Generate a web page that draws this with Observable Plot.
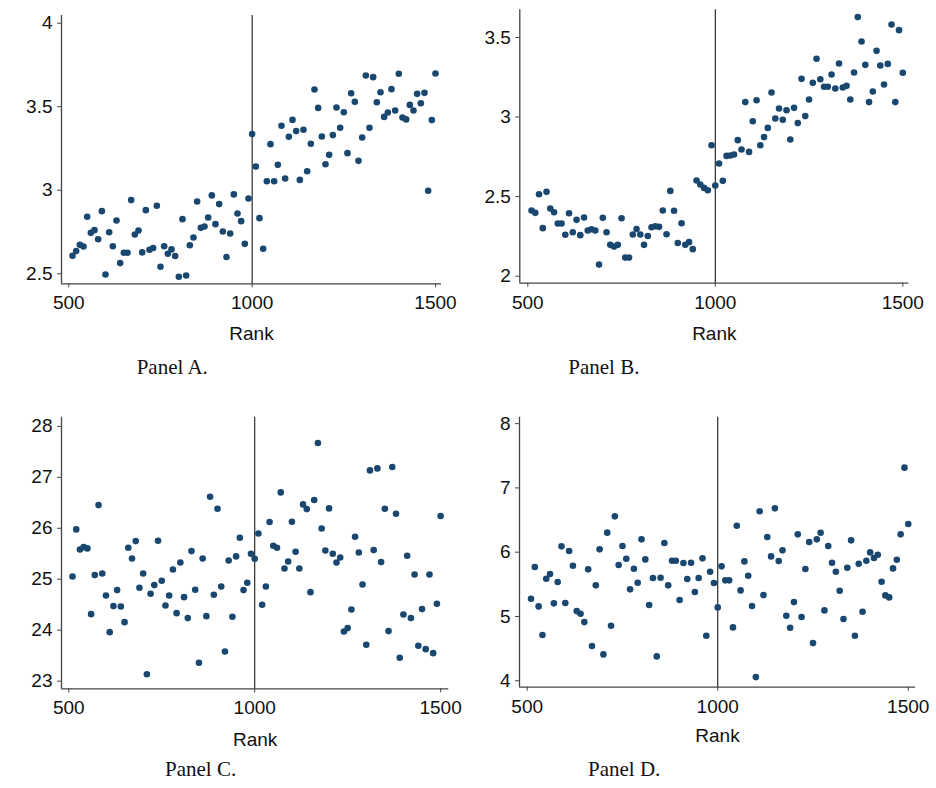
<!DOCTYPE html>
<html><head><meta charset="utf-8">
<script src="https://cdn.jsdelivr.net/npm/d3@7"></script>
<script src="https://cdn.jsdelivr.net/npm/@observablehq/plot@0.6"></script>
<style>
html,body{margin:0;padding:0;background:#fff;}
#wrap{position:relative;width:936px;height:788px;overflow:hidden;background:#fff;}
</style></head><body><div id="wrap"></div>
<script>
// Rank bins (x positions of the binned means)
const rankBins = [510,520,530,540,550,560,570,580,590,600,610,620,630,640,650,660,670,680,690,700,
710,720,730,740,750,760,770,780,790,800,810,820,830,840,850,860,870,880,890,900,
910,920,930,940,950,960,970,980,990,1000,1010,1020,1030,1040,1050,1060,1070,1080,1090,1100,
1110,1120,1130,1140,1150,1160,1170,1180,1190,1200,1210,1220,1230,1240,1250,1260,1270,1280,1290,1300,
1310,1320,1330,1340,1350,1360,1370,1380,1390,1400,1410,1420,1430,1440,1450,1460,1470,1480,1490,1500];
const cutoff = 1000;
const xTicks = [500, 1000, 1500];
const xLabel = "Rank";

const panelLabels = ["Panel A.", "Panel B.", "Panel C.", "Panel D."];

const valuesA = [2.608,2.636,2.673,2.663,2.841,2.745,2.761,2.707,2.875,2.496,
2.749,2.665,2.819,2.564,2.626,2.626,2.941,2.735,2.759,2.628,
2.881,2.644,2.654,2.907,2.542,2.665,2.620,2.646,2.606,2.482,
2.827,2.490,2.671,2.717,2.933,2.775,2.783,2.837,2.969,2.797,
2.917,2.753,2.600,2.741,2.975,2.861,2.815,2.679,2.951,3.336,
3.142,2.833,2.650,3.054,3.276,3.054,3.152,3.386,3.070,3.320,
3.421,3.354,3.062,3.362,3.114,3.278,3.603,3.493,3.322,3.156,
3.212,3.330,3.495,3.374,3.467,3.222,3.581,3.529,3.176,3.316,
3.687,3.374,3.677,3.527,3.587,3.439,3.465,3.605,3.477,3.697,
3.435,3.424,3.511,3.477,3.577,3.521,3.583,2.997,3.420,3.699];
const yTicksA = [2.5, 3, 3.5, 4];

const valuesB = [2.413,2.398,2.515,2.302,2.530,2.425,2.402,2.331,2.331,2.260,
2.396,2.276,2.354,2.258,2.369,2.287,2.295,2.287,2.073,2.367,
2.276,2.197,2.186,2.197,2.364,2.117,2.117,2.262,2.297,2.262,
2.197,2.253,2.308,2.314,2.310,2.413,2.264,2.536,2.411,2.209,
2.333,2.197,2.214,2.170,2.601,2.576,2.555,2.540,2.823,2.570,
2.708,2.599,2.756,2.758,2.765,2.855,2.796,3.094,2.781,2.974,
3.106,2.823,2.874,2.932,3.154,2.991,3.054,2.983,3.043,2.859,
3.058,2.962,3.240,3.006,3.110,3.215,3.366,3.238,3.190,3.190,
3.267,3.179,3.337,3.186,3.196,3.110,3.280,3.628,3.475,3.328,
3.094,3.161,3.416,3.324,3.205,3.334,3.582,3.094,3.546,3.278];
const yTicksB = [2, 2.5, 3, 3.5];

const valuesC = [25.055,25.978,25.585,25.631,25.605,24.315,25.081,26.455,25.114,24.682,
23.962,24.473,24.787,24.466,24.158,25.618,25.408,25.749,24.832,25.114,
23.137,24.715,24.885,25.755,24.970,24.486,24.682,25.192,24.335,25.330,
24.649,24.237,25.552,24.793,23.360,25.408,24.276,26.619,24.695,26.384,
24.859,23.582,25.369,24.263,25.448,25.814,24.787,24.931,25.500,25.402,
25.899,24.499,24.859,26.122,25.657,25.618,26.704,25.212,25.349,26.128,
25.539,25.212,26.469,26.377,24.747,26.554,27.673,25.997,25.565,26.390,
25.500,25.330,25.428,23.975,24.041,24.407,25.834,25.526,24.898,23.713,
27.136,25.572,27.175,25.336,26.384,23.982,27.202,26.285,23.458,24.309,
25.461,24.237,25.094,23.694,24.414,23.628,25.094,23.550,24.518,26.240];
const yTicksC = [23, 24, 25, 26, 27, 28];

const valuesD = [5.276,5.769,5.157,4.711,5.588,5.660,5.204,5.536,6.091,5.209,
6.018,5.790,5.084,5.043,4.913,5.733,4.540,5.484,6.044,4.410,
6.304,4.856,6.558,5.800,6.096,5.899,5.422,5.743,5.525,6.200,
5.888,5.178,5.598,4.379,5.603,6.143,5.484,5.868,5.868,5.256,
5.831,5.582,5.837,5.380,5.598,5.904,4.700,5.697,5.520,5.141,
5.780,5.562,5.562,4.830,6.412,5.406,5.857,5.634,5.162,4.057,
6.636,5.333,6.236,5.935,6.682,5.863,6.029,5.012,4.825,5.224,
6.278,4.991,5.738,6.158,4.586,6.200,6.303,5.095,6.096,5.837,
5.697,5.401,4.960,5.759,6.184,4.700,5.821,5.074,5.868,5.997,
5.909,5.961,5.541,5.328,5.297,5.748,5.883,6.278,7.315,6.438];
const yTicksD = [4, 5, 6, 7, 8];

const wrap = document.getElementById("wrap");
const dotColor = "#1a476f";
const axisColor = "#444";
const fontFamily = "'Liberation Sans', Arial, Helvetica, sans-serif";

function panel(cfg) {
  const data = rankBins.map((r, i) => ({rank: r, value: cfg.values[i]}));
  const fig = Plot.plot({
    width: cfg.w, height: cfg.h,
    marginLeft: cfg.ml, marginRight: cfg.mr, marginTop: cfg.mt, marginBottom: cfg.mb,
    x: {domain: cfg.xDomain},
    y: {domain: cfg.yDomain},
    style: {fontFamily, fontSize: "19px", color: "#111", background: "transparent", overflow: "visible"},
    marks: [
      Plot.ruleX([cfg.xDomain[0]], {stroke: axisColor, strokeWidth: 1.3}),
      Plot.ruleY([cfg.yDomain[0]], {stroke: axisColor, strokeWidth: 1.3}),
      Plot.ruleX([cutoff], {stroke: "#1a1a1a", strokeWidth: 1.1}),
      Plot.axisY({ticks: cfg.yTicks, tickFormat: d => String(d), tickSize: 4, tickPadding: 5, label: null, stroke: axisColor}),
      Plot.axisX({ticks: xTicks, tickFormat: d => String(d), tickSize: 4, tickPadding: 8,
        label: xLabel, labelAnchor: "center", labelArrow: "none", labelOffset: cfg.lo, stroke: axisColor}),
      Plot.dot(data, {x: "rank", y: "value", r: 3.3, fill: dotColor, stroke: null})
    ]
  });
  fig.style.position = "absolute";
  fig.style.left = cfg.left + "px";
  fig.style.top = cfg.top + "px";
  wrap.appendChild(fig);
}

panel({values: valuesA, yTicks: yTicksA, xDomain: [480, 1516.4], yDomain: [2.44, 4.046],
  left: 0, top: 0, w: 468, h: 345, ml: 61, mr: 27, mt: 15, mb: 61.7, lo: 56});
panel({values: valuesB, yTicks: yTicksB, xDomain: [478.7, 1516], yDomain: [1.956, 3.674],
  left: 468, top: 0, w: 468, h: 345, ml: 51.3, mr: 27.7, mt: 9.3, mb: 62.3, lo: 57});
panel({values: valuesC, yTicks: yTicksC, xDomain: [480.4, 1522], yDomain: [22.85, 28.18],
  left: 0, top: 400, w: 468, h: 350, ml: 61, mr: 19.7, mt: 16.7, mb: 61.7, lo: 57});
panel({values: valuesD, yTicks: yTicksD, xDomain: [479.8, 1519], yDomain: [3.90, 8.10],
  left: 468, top: 400, w: 468, h: 350, ml: 51, mr: 21, mt: 16.7, mb: 63.3, lo: 55});

// Panel captions
const capPos = [[136.7, 374.3], [568.3, 374.3], [165, 776], [588, 776]];
const ov = d3.select(wrap).append("svg")
  .attr("width", 936).attr("height", 788)
  .style("position", "absolute").style("left", "0px").style("top", "0px")
  .style("pointer-events", "none");
ov.selectAll("text").data(panelLabels).join("text")
  .attr("x", (d, i) => capPos[i][0]).attr("y", (d, i) => capPos[i][1])
  .attr("font-family", "'Liberation Serif', 'Times New Roman', serif")
  .attr("font-size", 21).attr("fill", "#111")
  .text(d => d);
</script></body></html>
